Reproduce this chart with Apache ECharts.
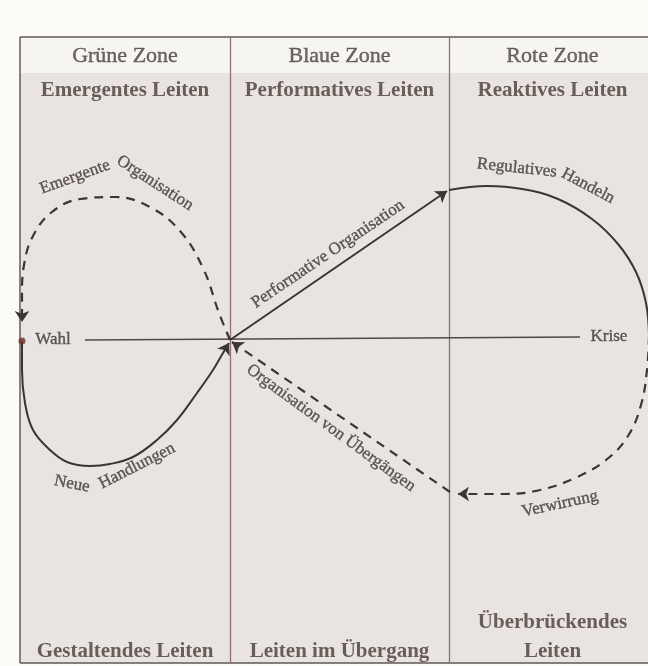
<!DOCTYPE html>
<html><head><meta charset="utf-8">
<script src="https://cdn.jsdelivr.net/npm/echarts@6/dist/echarts.min.js"></script>
<style>html,body{margin:0;padding:0;background:#fcfbf8}#c{width:648px;height:666px}</style>
</head><body><div id="c"></div>
<script>
// ---- content ----
const zoneNames   = ['Grüne Zone', 'Blaue Zone', 'Rote Zone'];
const zoneModes   = ['Emergentes Leiten', 'Performatives Leiten', 'Reaktives Leiten'];
const zoneFooters = ['Gestaltendes Leiten', 'Leiten im Übergang', 'Überbrückendes\nLeiten'];

// table structure in diagram units
const zoneEdges = [20, 230, 449, 656];
const tableRows = [37, 73, 663];           // top, header split, bottom

// axis (Wahl -> Krise)
const axisEnds = [[85, 340], [580, 337]];
const wahlPoint = [22, 341];

// curves (diagram units)
const emergentPath = [[230,340],[219,313],[203,268],[180,231],[150,207],[115,197],[80,199],[52,212],[33,236],[24,265],[22,295],[22,322]];
const neuePath = [[22,341],[22,370],[25,403],[33,430],[50,450],[67,462],[90,466],[110,464],[133,457],[157,440],[177,420],[197,393],[213,370],[223,353],[229,343]];
const performativeArrow = [[230,340],[447,191]];
const regulativPath = [[449,190],[487,186],[522,189],[558,199],[592,219],[618,244],[636,272],[646,303],[649,336]];
const verwirrungPath = [[649,336],[647,370],[641,405],[628,436],[606,460],[575,478],[540,490],[505,494],[458,494]];
const uebergangArrow = [[450,492],[232,342]];

// labels on the curves
const curveLabels = ['Emergente', 'Organisation', 'Performative Organisation', 'Regulatives', 'Handeln',
                     'Organisation von Übergängen', 'Verwirrung', 'Neue', 'Handlungen', 'Wahl', 'Krise'];
const curveLabelAnchors = [[75,177],[155,183],[328,254],[517,168],[588,186],[331,428],[560,504],[72,484],[137,466],[53,340],[609,337]];
const curveLabelAngles = [20, -33, 34, -6, -28, -36, 12, -11, 27, 0, 0];

// ---- styles ----
const serif = '"Liberation Serif", "Times New Roman", serif';
const ink = '#3b3631';

const chart = echarts.init(document.getElementById('c'));

const mid = (a, b) => (a + b) / 2;
const colCenters = zoneEdges.slice(0, -1).map((e, i) => mid(e, zoneEdges[i + 1]));

function textItem(pos, text, opt) {
  return { value: pos, name: text, label: Object.assign({ show: true, formatter: text, position: 'inside',
    align: 'center', verticalAlign: 'middle', fontFamily: serif, color: '#3f3832' }, opt) };
}

const headerTexts = [];
colCenters.forEach((cx, i) => {
  headerTexts.push(textItem([cx, 56], zoneNames[i], { fontSize: 22, color: '#4a443e', textBorderColor: '#4a443e', textBorderWidth: 0.4 }));
  headerTexts.push(textItem([cx, 91], zoneModes[i], { fontSize: 21, fontWeight: 'bold', color: '#463d35' }));
  const two = zoneFooters[i].indexOf('\n') >= 0;
  headerTexts.push(textItem([cx, two ? 637 : 652], zoneFooters[i], { fontSize: 21, fontWeight: 'bold', color: '#463d35', lineHeight: 29 }));
});
const curveTexts = curveLabels.map((t, i) => textItem(curveLabelAnchors[i], t,
  { fontSize: 17, rotate: curveLabelAngles[i], color: '#3d3630', textBorderColor: '#3d3630', textBorderWidth: 0.35 }));

const frameLines = [];
frameLines.push({ coords: [[zoneEdges[0], tableRows[0]], [zoneEdges[3], tableRows[0]]], lineStyle: { color: '#5f5955', width: 1.6, opacity: 1 } });
frameLines.push({ coords: [[zoneEdges[0], tableRows[2]], [zoneEdges[3], tableRows[2]]], lineStyle: { color: '#5f5955', width: 1.6, opacity: 1 } });
zoneEdges.forEach((x, i) => frameLines.push({ coords: [[x, tableRows[0]], [x, tableRows[2]]],
  lineStyle: { color: i === 0 ? '#6c6662' : (i === 1 ? '#8f6f79' : '#7d7490'), width: i === 0 ? 1.6 : 1.3, opacity: 1 } }));

function arrowHead(path) {
  const n = path.length;
  return { coords: [path[n - 2], path[n - 1]] };
}

const dash = [9, 7];

const option = {
  backgroundColor: '#fcfbf8',
  animation: false,
  grid: { left: 0, right: 0, top: 0, bottom: 0 },
  xAxis: { type: 'value', min: 0, max: 648, show: false },
  yAxis: { type: 'value', min: 0, max: 666, inverse: true, show: false },
  series: [
    { type: 'scatter', data: [[0, 0]], symbolSize: 0, silent: true, z: 0,
      markArea: { silent: true, data: [
        [{ coord: [zoneEdges[0], tableRows[0]], itemStyle: { color: '#f7f5f1' } }, { coord: [zoneEdges[3], tableRows[1]] }],
        [{ coord: [zoneEdges[0], tableRows[1]], itemStyle: { color: '#e9e4e2' } }, { coord: [zoneEdges[3], tableRows[2]] }]
      ] } },
    { type: 'lines', coordinateSystem: 'cartesian2d', z: 1, silent: true, data: frameLines, symbol: 'none',
      lineStyle: { opacity: 1 } },
    { type: 'lines', coordinateSystem: 'cartesian2d', z: 2, silent: true, symbol: 'none',
      data: [{ coords: axisEnds }], lineStyle: { color: '#4e4843', width: 1.6, opacity: 1 } },
    // left loop
    { type: 'line', data: emergentPath, smooth: 0.4, symbol: 'none', z: 3, silent: true,
      lineStyle: { color: ink, width: 2.2, type: dash } },
    { type: 'line', data: neuePath, smooth: 0.4, symbol: 'none', z: 3, silent: true,
      lineStyle: { color: ink, width: 2, type: 'solid' } },
    // right loop
    { type: 'line', data: regulativPath, smooth: 0.4, symbol: 'none', z: 3, silent: true,
      lineStyle: { color: ink, width: 2, type: 'solid' } },
    { type: 'line', data: verwirrungPath, smooth: 0.4, symbol: 'none', z: 3, silent: true,
      lineStyle: { color: ink, width: 2.2, type: dash } },
    // straight arrows
    { type: 'lines', coordinateSystem: 'cartesian2d', z: 4, silent: true, symbol: ['none', 'arrow'], symbolSize: 11,
      data: [{ coords: performativeArrow }], lineStyle: { color: ink, width: 2, opacity: 1 } },
    { type: 'lines', coordinateSystem: 'cartesian2d', z: 4, silent: true, symbol: ['none', 'arrow'], symbolSize: 11,
      data: [{ coords: uebergangArrow }], lineStyle: { color: ink, width: 2.2, type: dash, opacity: 1 } },
    // arrow heads at curve ends
    { type: 'lines', coordinateSystem: 'cartesian2d', z: 4, silent: true, symbol: ['none', 'arrow'], symbolSize: 11,
      data: [arrowHead(emergentPath), arrowHead(neuePath), arrowHead(verwirrungPath)],
      lineStyle: { color: ink, width: 0, opacity: 1 } },
    // Wahl point
    { type: 'scatter', data: [wahlPoint], symbolSize: 7, z: 5, silent: true, itemStyle: { color: '#6e2f24' } },
    // texts
    { type: 'scatter', data: headerTexts.concat(curveTexts), symbolSize: 0, z: 6, silent: true }
  ]
};
chart.setOption(option);
</script></body></html>
